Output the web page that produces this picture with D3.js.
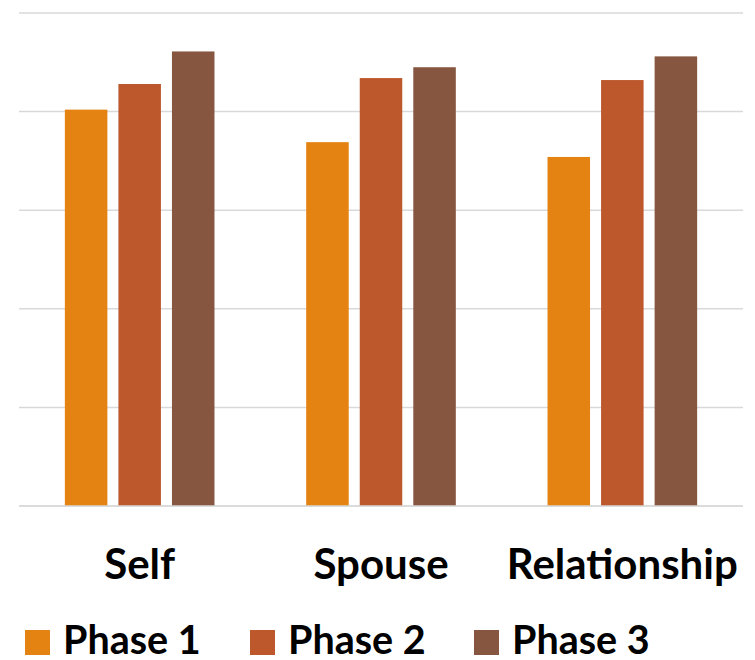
<!DOCTYPE html>
<html>
<head>
<meta charset="utf-8">
<script src="https://cdn.jsdelivr.net/npm/d3@7"></script>
<style>
  body { margin: 0; background: #fff; }
  text { font-family: Lato, "Open Sans", sans-serif; font-weight: 700; fill: #000; }
</style>
</head>
<body>
<div id="root"></div>
<script>
const categories = ["Self", "Spouse", "Relationship"];
const phases = ["Phase 1", "Phase 2", "Phase 3"];
const phase1 = [4.02, 3.69, 3.54];
const phase2 = [4.28, 4.34, 4.32];
const phase3 = [4.61, 4.45, 4.56];
const yTicks = [0, 1, 2, 3, 4, 5];
const colors = ["#e48312", "#bd582c", "#865640"];

const width = 755;
const height = 660;
const plotLeft = 19, plotRight = 743, plotTop = 13, plotBottom = 506;

// rows per category
const rows = categories.map((c, i) => ({
	cat: c,
	vals: [phase1[i], phase2[i], phase3[i]]
}));

const svg = d3.select("#root")
	.append("svg")
		.attr("width", width)
		.attr("height", height);

const x = d3.scaleBand()
	.domain(categories)
	.range([plotLeft, plotRight])
	.paddingInner(0.38)
	.paddingOuter(0.19);

const xInner = d3.scaleBand()
	.domain(phases)
	.range([0, x.bandwidth()])
	.paddingInner(0.206);

const y = d3.scaleLinear()
	.domain([0, 5])
	.range([plotBottom, plotTop]);

// gridlines
svg.selectAll(".grid")
	.data(yTicks).enter()
	.append("line")
		.attr("class", "grid")
		.attr("x1", plotLeft)
		.attr("x2", plotRight)
		.attr("y1", d => y(d))
		.attr("y2", d => y(d))
		.style("stroke", "#d9d9d9")
		.style("stroke-width", 1.5);

// bars
const groups = svg.selectAll(".group")
	.data(rows).enter()
	.append("g")
		.attr("class", "group")
		.attr("transform", d => `translate(${x(d.cat)},0)`);

groups.selectAll("rect")
	.data(d => d.vals.map((v, i) => ({ phase: phases[i], v: v, i: i })))
	.enter()
	.append("rect")
		.attr("x", d => xInner(d.phase))
		.attr("width", xInner.bandwidth())
		.attr("y", d => y(d.v))
		.attr("height", d => y(0) - y(d.v))
		.style("fill", d => colors[d.i]);

// redraw baseline over bars
svg.append("line")
	.attr("x1", plotLeft).attr("x2", plotRight)
	.attr("y1", y(0)).attr("y2", y(0))
	.style("stroke", "#d9d9d9")
	.style("stroke-width", 1.5);

// category labels
svg.selectAll(".cat")
	.data(categories).enter()
	.append("text")
		.attr("class", "cat")
		.attr("x", d => x(d) + x.bandwidth() / 2)
		.attr("y", 579)
		.attr("text-anchor", "middle")
		.style("font-size", "42px")
		.text(d => d);

// legend
const legendX = [25, 250, 474];
const legend = svg.selectAll(".legend")
	.data(phases).enter()
	.append("g")
		.attr("class", "legend")
		.attr("transform", (d, i) => `translate(${legendX[i]},629)`);

legend.append("rect")
	.attr("y", 1)
	.attr("width", 25)
	.attr("height", 25)
	.style("fill", (d, i) => colors[i]);

legend.append("text")
	.attr("x", 38)
	.attr("y", 25)
	.style("font-size", "39.5px")
	.text(d => d);
</script>
</body>
</html>
